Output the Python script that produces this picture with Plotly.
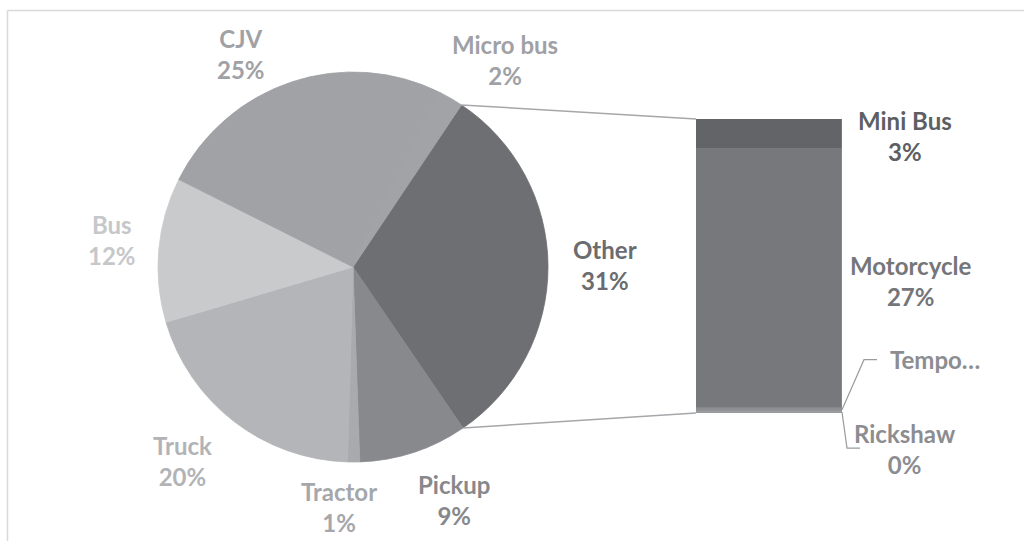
import math
import plotly.graph_objects as go

# ---- data ----
pie_labels = ["Other", "Pickup", "Tractor", "Truck", "Bus", "CJV", "Micro bus"]
pie_values = [31.1, 9.0, 1.0, 20.0, 12.0, 25.0, 2.0]
pie_colors = ["#6e6f73", "#88898d", "#a9aaad", "#b4b5b8", "#c9cacc", "#a1a2a6", "#a2a3a7"]
pie_text_colors = ["#6b6c70", "#87888c", "#a6a7aa", "#b2b3b6", "#c6c7c9", "#a0a1a5", "#a0a1a5"]

bar_labels = ["Rickshaw", "Tempo…", "Motorcycle", "Mini Bus"]
bar_values = [0.2, 0.3, 27.4, 3.2]
bar_colors = ["#9c9da0", "#8e8f93", "#77787c", "#636467"]
bar_text_colors = ["#8c8d91", "#8c8d91", "#75767a", "#5e5f62"]
bar_show_pct = [True, False, True, True]

W, H = 1024, 541
FONT = "Lato"
FSIZE = 24

def px(x):
    return x / W

def py(y):
    return 1 - y / H

# ---- layout geometry (pixels) ----
cx, cy, R = 353, 267, 195
rotation = 33.8
bar_x0, bar_x1, bar_top, bar_bot = 696, 842, 119, 413

total = sum(pie_values)

fig = go.Figure()
fig.add_trace(go.Pie(
    labels=pie_labels, values=pie_values, sort=False, direction="clockwise",
    rotation=rotation, marker=dict(colors=pie_colors, line=dict(width=0.8, color=pie_colors)),
    textinfo="none", hoverinfo="label+percent",
    domain=dict(x=[px(cx - R), px(cx + R)], y=[py(cy + R), py(cy - R)]),
    showlegend=False,
))

for lab, val, col in zip(bar_labels, bar_values, bar_colors):
    fig.add_trace(go.Bar(
        x=["Other"], y=[val], name=lab, marker=dict(color=col, line=dict(width=0.4, color="#9a9b9e")),
        xaxis="x", yaxis="y", showlegend=False, width=1,
    ))

bar_total = sum(bar_values)
fig.update_layout(
    width=W, height=H, margin=dict(l=0, r=0, t=0, b=0),
    paper_bgcolor="white", plot_bgcolor="rgba(0,0,0,0)",
    barmode="stack", bargap=0,
    xaxis=dict(domain=[px(bar_x0), px(bar_x1)], range=[-0.5, 0.5], visible=False, fixedrange=True),
    yaxis=dict(domain=[py(bar_bot), py(bar_top)], range=[0, bar_total], visible=False, fixedrange=True),
)

annotations = []
shapes = []

# pie labels: placed along slice mid-angle, with per-label nudges (px)
nudge = {"Other": (4, -1), "Pickup": (24, -2), "Tractor": (-15, -8), "Truck": (-19, -2),
         "Bus": (6, -5), "CJV": (-34, 22), "Micro bus": (27, 7)}
acc = 0.0
for lab, val, tcol in zip(pie_labels, pie_values, pie_text_colors):
    mid = rotation + 360 * (acc + val / 2) / total
    acc += val
    a = math.radians(mid)
    lx = cx + 1.27 * R * math.sin(a) + nudge[lab][0]
    ly = cy - 1.27 * R * math.cos(a) + nudge[lab][1]
    pct = round(100 * val / total)
    annotations.append(dict(
        x=px(lx), y=py(ly), xref="paper", yref="paper", showarrow=False,
        text=f"{lab}<br>{pct}%", font=dict(family=FONT, size=FSIZE, color=tcol, weight="bold"),
        xanchor="center", yanchor="middle", align="center",
    ))

# bar labels
scale = (bar_bot - bar_top) / bar_total
acc = 0.0
seg_mid = {}
for lab, val in zip(bar_labels, bar_values):
    seg_mid[lab] = bar_bot - (acc + val / 2) * scale
    acc += val

bar_label_pos = {
    "Mini Bus": (905, seg_mid["Mini Bus"] + 2),
    "Motorcycle": (910, seg_mid["Motorcycle"] + 2),
    "Tempo…": (935, seg_mid["Tempo…"] - 50),
    "Rickshaw": (905, seg_mid["Rickshaw"] + 37),
}
for lab, val, tcol, showp in zip(bar_labels, bar_values, bar_text_colors, bar_show_pct):
    lx, ly = bar_label_pos[lab]
    pct = round(100 * val / total)
    txt = f"{lab}<br>{pct}%" if showp else lab
    annotations.append(dict(
        x=px(lx), y=py(ly), xref="paper", yref="paper", showarrow=False,
        text=txt, font=dict(family=FONT, size=FSIZE, color=tcol, weight="bold"),
        xanchor="center", yanchor="middle", align="center",
    ))

# leader lines for small bar segments
lead = "#9a9b9e"
tempo_y = seg_mid["Tempo…"]
shapes.append(dict(type="path", xref="paper", yref="paper",
                   path=f"M {px(bar_x1)},{py(tempo_y)} L {px(864)},{py(tempo_y - 50)} L {px(877)},{py(tempo_y - 50)}",
                   line=dict(color=lead, width=1.2)))
rick_y = seg_mid["Rickshaw"]
shapes.append(dict(type="path", xref="paper", yref="paper",
                   path=f"M {px(bar_x1)},{py(rick_y)} L {px(847)},{py(rick_y + 36)} L {px(860)},{py(rick_y + 36)}",
                   line=dict(color=lead, width=1.2)))

# connector lines from "Other" slice edges to bar corners
a0 = math.radians(rotation)
a1 = math.radians(rotation + 360 * pie_values[0] / total)
p0 = (cx + R * math.sin(a0), cy - R * math.cos(a0))
p1 = (cx + R * math.sin(a1), cy - R * math.cos(a1))
conn = "#a6a7aa"
shapes.append(dict(type="line", xref="paper", yref="paper", x0=px(p0[0]), y0=py(p0[1]),
                   x1=px(bar_x0), y1=py(bar_top), line=dict(color=conn, width=1.5)))
shapes.append(dict(type="line", xref="paper", yref="paper", x0=px(p1[0]), y0=py(p1[1]),
                   x1=px(bar_x0), y1=py(bar_bot), line=dict(color=conn, width=1.5)))

# chart frame (top and left edges visible)
frame = "#d9d9d9"
shapes.append(dict(type="line", xref="paper", yref="paper", x0=px(7.5), y0=py(10.5), x1=1.01, y1=py(10.5),
                   line=dict(color=frame, width=1.5)))
shapes.append(dict(type="line", xref="paper", yref="paper", x0=px(7.5), y0=py(10.5), x1=px(7.5), y1=-0.01,
                   line=dict(color=frame, width=1.5)))

fig.update_layout(annotations=annotations, shapes=shapes)
fig.write_html(
    "out.html",
    config={"displayModeBar": False},
    post_script="document.body.style.margin='0';document.body.style.overflow='hidden';",
)
